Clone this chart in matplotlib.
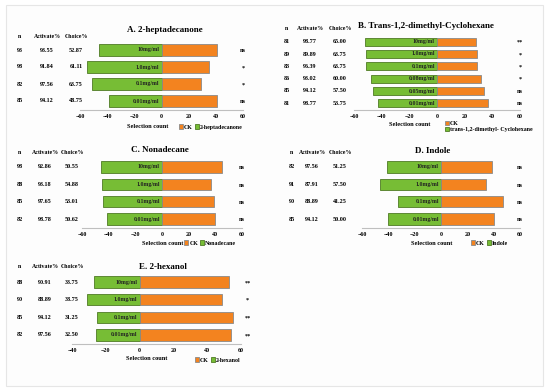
import matplotlib
matplotlib.use("Agg")
import matplotlib.pyplot as plt
import matplotlib.transforms as mtransforms
from matplotlib.patches import Rectangle

plt.rcParams['font.family'] = ['Liberation Serif', 'DejaVu Serif']
plt.rcParams['font.weight'] = 'bold'

# ---- data ----
a_conc = ['10mg/ml', '1.0mg/ml', '0.1mg/ml', '0.01mg/ml']
a_n = ['93', '98', '82', '85']
a_act = ['93.55', '91.84', '97.56', '94.12']
a_choice = ['52.87', '61.11', '63.75', '48.75']
a_treat = [46, 55, 51, 39]
a_ck = [41, 35, 29, 41]
a_sig = ['ns', '*', '*', 'ns']

b_conc = ['10mg/ml', '1.0mg/ml', '0.1mg/ml', '0.08mg/ml', '0.05mg/ml', '0.01mg/ml']
b_n = ['81', '89', '83', '86', '85', '81']
b_act = ['98.77', '89.89', '96.39', '93.02', '94.12', '98.77']
b_choice = ['65.00', '63.75', '63.75', '60.00', '57.50', '53.75']
b_treat = [52, 51, 51, 48, 46, 43]
b_ck = [28, 29, 29, 32, 34, 37]
b_sig = ['**', '*', '*', '*', 'ns', 'ns']

c_conc = ['10mg/ml', '1.0mg/ml', '0.1mg/ml', '0.01mg/ml']
c_n = ['98', '88', '85', '82']
c_act = ['92.86', '93.18', '97.65', '98.78']
c_choice = ['50.55', '54.88', '53.01', '50.62']
c_treat = [46, 45, 44, 41]
c_ck = [45, 37, 39, 40]
c_sig = ['ns', 'ns', 'ns', 'ns']

d_conc = ['10mg/ml', '1.0mg/ml', '0.1mg/ml', '0.01mg/ml']
d_n = ['82', '91', '90', '85']
d_act = ['97.56', '87.91', '88.89', '94.12']
d_choice = ['51.25', '57.50', '41.25', '50.00']
d_treat = [41, 46, 33, 40]
d_ck = [39, 34, 47, 40]
d_sig = ['ns', 'ns', 'ns', 'ns']

e_conc = ['10mg/ml', '1.0mg/ml', '0.1mg/ml', '0.01mg/ml']
e_n = ['88', '90', '85', '82']
e_act = ['90.91', '88.89', '94.12', '97.56']
e_choice = ['33.75', '38.75', '31.25', '32.50']
e_treat = [27, 31, 25, 26]
e_ck = [53, 49, 55, 54]
e_sig = ['**', '*', '**', '**']

GREEN = '#77bd35'
ORANGE = '#f3831f'

W, H = 550, 391
fig = plt.figure(figsize=(5.5, 3.91), dpi=100)
fig.add_artist(Rectangle((6 / W, 1 - 386 / H), 537 / W, 381 / H, transform=fig.transFigure,
                         facecolor='#fdfdfd', edgecolor='#e6e6e6', lw=0.8, zorder=-5))


def fx(px):
    return px / W


def fy(py):
    return 1 - py / H


def panel(title, name, conc, n, act, choice, treat, ck, sig, lay):
    x0, x1, y0, y1 = lay['box']
    ax = fig.add_axes([fx(x0), fy(y1), fx(x1 - x0), (y1 - y0) / H])
    k = len(conc)
    ypos = list(range(k - 1, -1, -1))
    ax.barh(ypos, [-v for v in treat], height=0.66, color=GREEN, edgecolor='#4f7a25',
            lw=0.6, label=name)
    ax.barh(ypos, ck, height=0.66, color=ORANGE, edgecolor='#8a8a8a', lw=0.6, label='CK')
    ax.set_xlim(lay['xlim'])
    ax.set_ylim(-0.5, k - 0.5)
    ax.set_xticks(lay['ticks'])
    ax.set_xticklabels([str(t).replace('-', '\u2212') for t in lay['ticks']])
    ax.set_yticks([])
    ax.tick_params(axis='x', length=0, labelsize=4.3, pad=3)
    for s in ['top', 'left', 'right']:
        ax.spines[s].set_visible(False)
    ax.spines['bottom'].set_color('#bfbfbf')
    ax.spines['bottom'].set_linewidth(0.8)
    ax.patch.set_alpha(0)

    for y, c in zip(ypos, conc):
        ax.text(-1.5, y, c, ha='right', va='center', fontsize=4.2, color='#222222')
    tr = mtransforms.blended_transform_factory(fig.transFigure, ax.transData)
    hx = lay['cols']
    for y, a, b, c, s in zip(ypos, n, act, choice, sig):
        ax.text(fx(hx[0]), y, a, transform=tr, ha='center', va='center', fontsize=4.4)
        ax.text(fx(hx[1]), y, b, transform=tr, ha='center', va='center', fontsize=4.4)
        ax.text(fx(hx[2]), y, c, transform=tr, ha='center', va='center', fontsize=4.4)
        ax.text(lay['sigx'], y - 0.05, s, ha='center', va='center', fontsize=4.5, clip_on=False)
    hy = fy(lay['head'])
    fig.text(fx(hx[0]), hy, 'n', ha='center', va='center', fontsize=4.2)
    fig.text(fx(hx[1]), hy, 'Activate%', ha='center', va='center', fontsize=4.2)
    fig.text(fx(hx[2]), hy, 'Choice%', ha='center', va='center', fontsize=4.2)
    fig.text(fx(lay['title'][0]), fy(lay['title'][1]), title, ha='center', va='center',
             fontsize=6.5)
    fig.text(fx(lay['xlab'][0]), fy(lay['xlab'][1]), 'Selection count', ha='center',
             va='center', fontsize=4.6)
    h, l = ax.get_legend_handles_labels()
    ax.legend(h[::-1], l[::-1], loc='center left', ncol=lay['ncol'],
              bbox_to_anchor=(fx(lay['leg'][0]), fy(lay['leg'][1])),
              bbox_transform=fig.transFigure, frameon=False, fontsize=4.2,
              handlelength=0.7, handleheight=0.7, handletextpad=0.2,
              columnspacing=0.3, labelspacing=0.25, borderpad=0, borderaxespad=0)
    return ax


panel('A. 2-heptadecanone', '2-heptadecanone', a_conc, a_n, a_act, a_choice, a_treat, a_ck, a_sig,
      dict(box=(80, 243, 41.5, 109.5), xlim=(-60, 60), ticks=[-60, -40, -20, 0, 20, 40, 60],
           cols=(20, 47, 76), head=37, sigx=60, title=(165, 30), xlab=(148, 127),
           leg=(179, 127), ncol=2))

panel('B. Trans-1,2-dimethyl-Cyclohexane', 'trans-1,2-dimethyl- Cyclohexane', b_conc, b_n, b_act,
      b_choice, b_treat, b_ck, b_sig,
      dict(box=(354, 520, 35.5, 109.5), xlim=(-60, 60), ticks=[-60, -40, -20, 0, 20, 40, 60],
           cols=(287, 310, 340), head=28, sigx=60, title=(426, 26), xlab=(410, 125),
           leg=(445, 126.5), ncol=1))

panel('C. Nonadecane', 'Nonadecane', c_conc, c_n, c_act, c_choice, c_treat, c_ck, c_sig,
      dict(box=(82, 242, 158.3, 227.7), xlim=(-60, 60), ticks=[-60, -40, -20, 0, 20, 40, 60],
           cols=(20, 45, 72), head=153, sigx=60, title=(160, 150), xlab=(163, 243),
           leg=(184, 243), ncol=2))

panel('D. Indole', 'Indole', d_conc, d_n, d_act, d_choice, d_treat, d_ck, d_sig,
      dict(box=(362, 520, 158.3, 227.7), xlim=(-60, 60), ticks=[-60, -40, -20, 0, 20, 40, 60],
           cols=(292, 312, 340), head=153, sigx=60, title=(433, 151), xlab=(432, 243),
           leg=(471, 243), ncol=2))

panel('E. 2-hexanol', '2-hexanol', e_conc, e_n, e_act, e_choice, e_treat, e_ck, e_sig,
      dict(box=(72, 241, 273.2, 343.8), xlim=(-40, 60), ticks=[-40, -20, 0, 20, 40, 60],
           cols=(20, 45, 72), head=267, sigx=64, title=(163, 267), xlab=(147, 359),
           leg=(195, 360), ncol=2))

plt.savefig('out.png', dpi=100)
